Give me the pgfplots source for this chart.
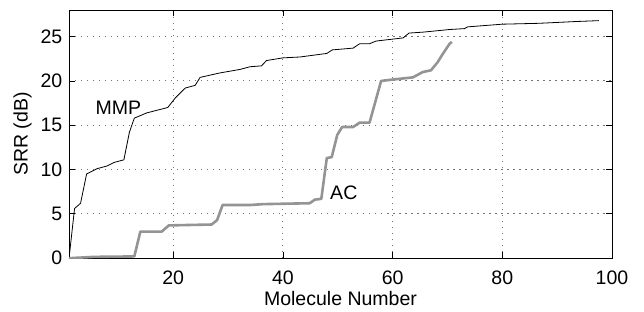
\documentclass[border=0pt]{standalone}
\usepackage{fontspec}
\setmainfont{Liberation Sans}
\usepackage{pgfplots}
\pgfplotsset{compat=1.18}
\begin{document}
\fontsize{19.5}{23}\selectfont
\begin{tikzpicture}
\begin{axis}[
  at={(0pt,0pt)}, anchor=south west,
  scale only axis,
  width=542.5pt, height=248pt,
  xmin=1, xmax=100, ymin=0, ymax=28,
  enlargelimits=false,
  xtick={20,40,60,80,100},
  ytick={0,5,10,15,20,25},
  tick align=inside,
  major tick length=6pt,
  xmajorgrids, ymajorgrids,
  grid style={dash pattern=on 1.2pt off 4.8pt, black!55, line width=0.9pt},
  axis line style={line width=0.9pt},
  tick style={line width=0.8pt, black},
  /pgf/number format/assume math mode=true,
  ticklabel style={font=\fontsize{19.5}{23}\selectfont},
  xticklabel style={yshift=-6pt},
  every axis x label/.style={at={(axis description cs:0.5,-0.163)}, anchor=center, font=\fontsize{19.5}{23}\selectfont},
  every axis y label/.style={at={(axis description cs:-0.0857,0.5)}, anchor=center, rotate=90, font=\fontsize{19.5}{23}\selectfont},
  xlabel={Molecule Number},
  ylabel={SRR (dB)},
]
\addplot[color=black, line width=0.8pt] coordinates {
(1,0) (2,5.6) (3.1,6.2) (4.2,9.5) (6.1,10.1) (7.9,10.4) (9.2,10.8) (11,11.1)
(12,14.2) (12.9,15.8) (15.2,16.4) (19,17.0) (20.4,18.1) (22.2,19.2) (24,19.5)
(24.9,20.4) (28.5,20.9) (32.2,21.3) (34,21.6) (36.1,21.7) (37,22.3) (40,22.6)
(43.1,22.7) (48,23.1) (49,23.5) (52.8,23.7) (54,24.2) (55.8,24.2) (57,24.5)
(61.9,24.85) (63,25.4) (65.5,25.5) (70.4,25.8) (73.1,25.9) (73.7,26.1)
(80,26.4) (86.7,26.5) (93.4,26.7) (97.6,26.8)
};
\addplot[color=black!42, line width=2.6pt, line join=round] coordinates {
(1,0) (5.5,0.15) (12.9,0.2) (14,3.0) (17.9,3.0) (19.2,3.7) (27,3.8) (28,4.3)
(29,6.0) (34,6.0) (36.4,6.1) (44.9,6.2) (45.8,6.6) (47,6.7) (48,11.3) (48.9,11.4)
(49.9,13.9) (50.8,14.8) (52.8,14.8) (54,15.3) (55.8,15.3) (57.9,20.0) (60.7,20.2)
(63.7,20.4) (65.5,21.0) (67,21.2) (68.2,22.1) (69.1,23.0) (70.4,24.2) (70.8,24.4)
};
\node[font=\fontsize{19.5}{23}\selectfont] at (axis cs:10,17.0) {MMP};
\node[font=\fontsize{19.5}{23}\selectfont] at (axis cs:51.1,7.35) {AC};
\end{axis}
\pgfresetboundingbox
\path (-69pt,-53pt) rectangle (574.5pt,258pt);
\end{tikzpicture}
\end{document}
